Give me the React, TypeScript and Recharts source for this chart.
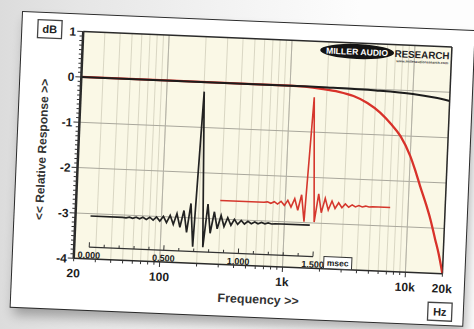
import React from 'react';
import {
  ComposedChart,
  Line,
  Scatter,
  XAxis,
  YAxis,
  CartesianGrid,
  ReferenceLine,
} from 'recharts';

// frequency responses (Hz -> dB)
const redFreqs = [20, 500, 1000, 1800, 2500, 3300, 4300, 5500, 6800, 8200, 10000, 11000, 12300, 14000, 15300, 17000, 18300, 20000];
const redDb = [0, 0, 0, -0.04, -0.09, -0.17, -0.31, -0.51, -0.75, -1.01, -1.44, -1.72, -2.09, -2.5, -2.81, -3.25, -3.55, -4.0];

const blackFreqs = [20, 1000, 2000, 5000, 10000, 15000, 20000];
const blackDb = [0, 0, -0.005, -0.025, -0.07, -0.13, -0.19];

// impulse responses (msec -> normalised amplitude)
const blackImpTime = [
  0, 0.215, 0.238, 0.261, 0.283, 0.306, 0.329, 0.351, 0.374, 0.397, 0.42, 0.442, 0.465, 0.488, 0.51, 0.533,
  0.556, 0.578, 0.601, 0.624, 0.647, 0.669, 0.692, 0.726, 0.76, 0.783, 0.805, 0.828, 0.851, 0.874, 0.896,
  0.919, 0.942, 0.964, 0.987, 1.01, 1.032, 1.055, 1.078, 1.101, 1.123, 1.146, 1.169, 1.191, 1.214, 1.237, 1.47,
];
const blackImpAmp = [
  0, 0, -0.003, 0.004, -0.004, 0.005, -0.006, 0.007, -0.008, 0.01, -0.012, 0.014, -0.017, 0.021, -0.026, 0.031,
  -0.038, 0.047, -0.058, 0.073, -0.095, 0.13, -0.205, 1, -0.205, 0.13, -0.095, 0.073, -0.058, 0.047, -0.038,
  0.031, -0.026, 0.021, -0.017, 0.014, -0.012, 0.01, -0.008, 0.007, -0.006, 0.005, -0.004, 0.004, -0.003, 0, 0,
];

const redImpTime = [
  0.864, 1.157, 1.18, 1.203, 1.226, 1.248, 1.271, 1.294, 1.316, 1.339, 1.362, 1.385, 1.407, 1.43, 1.464,
  1.498, 1.521, 1.543, 1.566, 1.589, 1.612, 1.634, 1.657, 1.68, 1.702, 1.725, 1.748, 1.77, 1.793, 1.816,
  1.839, 1.861, 1.884, 2.003,
];
const redImpAmp = [
  0, 0, 0.005, -0.007, 0.009, -0.012, 0.016, -0.021, 0.027, -0.035, 0.046, -0.062, 0.085, -0.165, 1,
  -0.165, 0.1, -0.075, 0.06, -0.047, 0.038, -0.03, 0.025, -0.02, 0.016, -0.013, 0.01, -0.008, 0.006, -0.005,
  0.004, -0.003, 0, 0,
];

// axes
const freqTicks = [20, 30, 40, 50, 60, 70, 80, 90, 100, 200, 300, 400, 500, 600, 700, 800, 900, 1000, 2000, 3000, 4000, 5000, 6000, 7000, 8000, 9000, 10000, 20000];
const freqLabels: Record<string, string> = { '20': '20', '100': '100', '1000': '1k', '10000': '10k', '20000': '20k' };
const decadeLines = [100, 1000, 10000];
const dbGridLines = [0, -1, -2, -3];
const timeTicks = [0, 0.1, 0.2, 0.3, 0.4, 0.5, 0.6, 0.7, 0.8, 0.9, 1, 1.1, 1.2, 1.3, 1.4, 1.5];
const timeLabels: Record<string, string> = { '0': '0.000', '0.5': '0.500', '1': '1.000', '1.5': '1.500' };

const dbTicks = Array.from({ length: 51 }, (_, i) => Math.round((1 - i * 0.1) * 10) / 10);
const TIME_AXIS_DB = -3.74;

const FONT = "'Liberation Sans', Arial, sans-serif";

const redFR = redFreqs.map((f, i) => ({ f, db: redDb[i] }));
const blackFR = blackFreqs.map((f, i) => ({ f, db: blackDb[i] }));
const blackImp = blackImpTime.map((t, i) => ({ t, a: blackImpAmp[i] }));
const redImp = redImpTime.map((t, i) => ({ t, a: redImpAmp[i] }));
const timeAxisPts = timeTicks.map((t) => ({ t, y: TIME_AXIS_DB }));

const FreqTick = (props: any) => {
  const { x, y, payload } = props;
  const v = payload.value;
  const label = freqLabels[String(v)];
  const major = decadeLines.includes(v);
  return (
    <g>
      <line x1={x} x2={x} y1={y} y2={y + (major ? 5 : 3)} stroke="#333" strokeWidth={1} />
      {label && (
        <text x={x} y={y + 19} textAnchor="middle" fontSize={12} fontWeight="bold" fill="#1c1c1c" fontFamily={FONT}>
          {label}
        </text>
      )}
    </g>
  );
};

const DbTick = (props: any) => {
  const { x, y, payload } = props;
  const v = payload.value;
  const major = Math.abs(v - Math.round(v)) < 1e-6;
  const r = Math.round(v);
  return (
    <g>
      <line x1={x - (major ? 6 : 3.5)} x2={x} y1={y} y2={y} stroke="#333" strokeWidth={1} />
      {major && (
        <text x={x - 7} y={y + 4.5} textAnchor="end" fontSize={12} fontWeight="bold" fill="#1c1c1c" fontFamily={FONT}>
          {r === 0 ? '0' : String(r)}
        </text>
      )}
    </g>
  );
};

const TimeTick = (props: any) => {
  const { cx, cy, payload } = props;
  const label = timeLabels[String(payload.t)];
  return (
    <g>
      <line x1={cx} x2={cx} y1={cy} y2={cy - (label ? 5 : 3)} stroke="#333" strokeWidth={1} />
      {label && (
        <text x={cx} y={cy + 11} textAnchor="middle" fontSize={9} fontWeight="bold" fill="#1c1c1c" fontFamily={FONT}>
          {label}
        </text>
      )}
      {payload.t === 1.5 && (
        <g>
          <rect x={cx + 11} y={cy - 0.5} width={28} height={12} fill="#fff" stroke="#333" strokeWidth={1} />
          <text x={cx + 25} y={cy + 8.5} textAnchor="middle" fontSize={8.5} fontWeight="bold" fill="#1c1c1c" fontFamily={FONT}>
            msec
          </text>
        </g>
      )}
    </g>
  );
};

function Chart() {
  return (
    <ComposedChart width={452} height={295} margin={{ top: 17, right: 22, bottom: 21, left: 31 }}>
      <CartesianGrid xAxisId="f" yAxisId="db" horizontal={false} stroke="#d9d6c3" fill="#faf8e6" />
      <XAxis
        xAxisId="f"
        dataKey="f"
        type="number"
        scale="log"
        domain={[20, 20000]}
        allowDataOverflow
        ticks={freqTicks}
        interval={0}
        tickSize={0}
        tickMargin={0}
        tickLine={false}
        tick={<FreqTick />}
        height={30}
        axisLine={{ stroke: '#2a2a2a', strokeWidth: 1.5 }}
      />
      <XAxis xAxisId="t" dataKey="t" type="number" orientation="top" height={0} domain={[-0.1005, 2.371]} allowDataOverflow hide />
      <YAxis
        yAxisId="db"
        type="number"
        domain={[-4, 1]}
        allowDataOverflow
        ticks={dbTicks}
        interval={0}
        tickSize={0}
        tickMargin={0}
        tickLine={false}
        tick={<DbTick />}
        width={30}
        axisLine={{ stroke: '#2a2a2a', strokeWidth: 2.5 }}
      />
      <YAxis yAxisId="bi" type="number" orientation="right" width={0} domain={[-0.3333, 1.4264]} allowDataOverflow hide />
      <YAxis yAxisId="ri" type="number" orientation="right" width={0} domain={[-0.5981, 1.5234]} allowDataOverflow hide />

      {dbGridLines.map((v) => (
        <ReferenceLine key={'h' + v} xAxisId="f" yAxisId="db" y={v} stroke="#a9a79c" strokeWidth={1} />
      ))}
      {decadeLines.map((v) => (
        <ReferenceLine key={'v' + v} xAxisId="f" yAxisId="db" x={v} stroke="#b3b1a6" strokeWidth={1} />
      ))}
      <ReferenceLine xAxisId="f" yAxisId="db" y={1} stroke="#2a2a2a" strokeWidth={1.5} />
      <ReferenceLine xAxisId="f" yAxisId="db" x={20000} stroke="#2a2a2a" strokeWidth={1.5} />

      <ReferenceLine
        xAxisId="t"
        yAxisId="db"
        segment={[{ x: 0, y: TIME_AXIS_DB }, { x: 1.5, y: TIME_AXIS_DB }]}
        stroke="#333"
        strokeWidth={1.3}
        ifOverflow="visible"
      />
      <Scatter
        xAxisId="t"
        yAxisId="db"
        data={timeAxisPts}
        dataKey="y"
        shape={<TimeTick />}
        isAnimationActive={false}
      />

      <Line xAxisId="t" yAxisId="bi" data={blackImp} dataKey="a" type="linear" stroke="#222" strokeWidth={1.7} dot={false} isAnimationActive={false} />
      <Line xAxisId="t" yAxisId="ri" data={redImp} dataKey="a" type="linear" stroke="#d5372d" strokeWidth={1.6} dot={false} isAnimationActive={false} />

      <Line xAxisId="f" yAxisId="db" data={redFR} dataKey="db" type="monotone" stroke="#d8322a" strokeWidth={2.3} dot={false} isAnimationActive={false} />
      <Line xAxisId="f" yAxisId="db" data={blackFR} dataKey="db" type="monotone" stroke="#1c1c1c" strokeWidth={2} dot={false} isAnimationActive={false} />
    </ComposedChart>
  );
}

function Decorations() {
  return (
    <svg width={452} height={295} style={{ position: 'absolute', left: 0, top: 0, pointerEvents: 'none' }}>
      {/* dB box */}
      <rect x={15.5} y={7} width={24} height={18} fill="#fff" stroke="#444" strokeWidth={1.3} />
      <text x={27.5} y={20} textAnchor="middle" fontSize={11} fontWeight="bold" fill="#222" fontFamily={FONT}>dB</text>

      {/* y title */}
      <g transform="translate(24.5,136.6) rotate(-90)">
        <text x={0} y={4.3} textAnchor="middle" fontSize={12} fontWeight="bold" fill="#333" fontFamily={FONT}>
          {'<< Relative Response >>'}
        </text>
      </g>

      {/* x title */}
      <text x={247} y={281.5} textAnchor="middle" fontSize={12.5} fontWeight="bold" fill="#333" fontFamily={FONT}>
        {'Frequency >>'}
      </text>

      {/* Hz box */}
      <rect x={417} y={273} width={24} height={18} fill="#fff" stroke="#444" strokeWidth={1.3} />
      <text x={429} y={286} textAnchor="middle" fontSize={11} fontWeight="bold" fill="#222" fontFamily={FONT}>Hz</text>

      {/* logo */}
      <ellipse cx={335.5} cy={25.5} rx={37} ry={7.5} fill="#141414" />
      <text x={335.5} y={28.8} textAnchor="middle" fontSize={8.5} fontWeight="bold" fill="#fff" fontFamily={FONT} textLength={62} lengthAdjust="spacingAndGlyphs">
        MILLER AUDIO
      </text>
      <text x={373} y={29.5} fontSize={10} fontWeight="bold" fill="#222" fontFamily={FONT} textLength={55} lengthAdjust="spacingAndGlyphs">
        RESEARCH
      </text>
      <text x={375} y={34.5} fontSize={3.6} fontWeight="bold" fill="#444" fontFamily={FONT} textLength={52} lengthAdjust="spacingAndGlyphs">
        www.milleraudioresearch.com
      </text>
    </svg>
  );
}

export default function App() {
  return (
    <div
      style={{
        position: 'fixed',
        left: 0,
        top: 0,
        width: 474,
        height: 329,
        overflow: 'hidden',
        background: 'linear-gradient(90deg, #dcdcdc 0px, #e6e6e6 80px, #f2f2f2 220px, #fdfdfd 360px)',
      }}
    >
      <div
        style={{
          position: 'absolute',
          left: 22.8,
          top: 12.4,
          width: 452,
          height: 295,
          background: '#fff',
          transform: 'rotate(2.4deg)',
          transformOrigin: '0 0',
          boxShadow: '0 0 0 1px #2a2a2a, 3px 8px 12px rgba(0,0,0,0.3)',
          fontFamily: FONT,
        }}
      >
        <div style={{ position: 'absolute', left: 0, top: 0 }}>
          <Chart />
        </div>
        <Decorations />
      </div>
    </div>
  );
}
